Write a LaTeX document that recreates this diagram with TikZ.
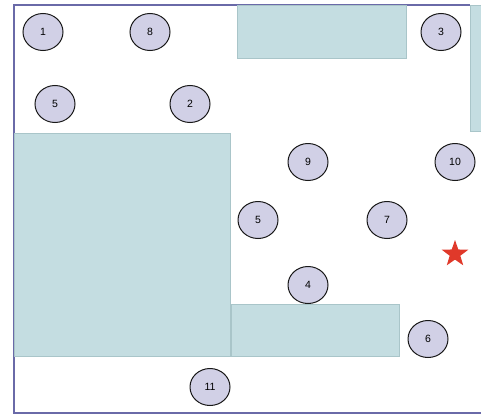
\documentclass[tikz,border=0pt]{standalone}
\usepackage{fontspec}
\setmainfont{Liberation Sans}
\usetikzlibrary{shapes.geometric}
\definecolor{wallblue}{HTML}{6A6AA8}
\definecolor{blockfill}{HTML}{C4DDE1}
\definecolor{blockline}{HTML}{A9C5C9}
\definecolor{spotfill}{HTML}{D1D0E6}
\definecolor{starred}{HTML}{E0392A}
\begin{document}
\begin{tikzpicture}[x=1pt,y=-1pt,font=\fontsize{10.5}{12}\selectfont]
        \tikzset{spot/.style={draw=black!90, fill=spotfill, ellipse, line width=1pt, minimum width=40pt, minimum height=37pt, inner sep=0pt},
                 block/.style={fill=blockfill, draw=blockline, line width=1pt}}
        \useasboundingbox (0,0) rectangle (481,415);
        % outer wall
        \draw[wallblue, line width=1.5pt] (470,5) -- (14,5) -- (14,413) -- (481,413);
        % obstacles
        \draw[block] (237,5) rectangle (406,58);
        \draw[block] (470,5) rectangle (484,131);
        \draw[block] (14,133) rectangle (230,356);
        \draw[block] (231,304) rectangle (399,356);
        % numbered spots
        \node[spot] (s1) at (43,32) {1};
        \node[spot] (s8) at (150,32) {8};
        \node[spot] (s3) at (441,32) {3};
        \node[spot] (s5a) at (55,104) {5};
        \node[spot] (s2) at (190,104) {2};
        \node[spot] (s9) at (308,162) {9};
        \node[spot] (s10) at (455,162) {10};
        \node[spot] (s5b) at (258,220) {5};
        \node[spot] (s7) at (387,220) {7};
        \node[spot] (s4) at (308,285) {4};
        \node[spot] (s6) at (428,339) {6};
        \node[spot] (s11) at (210,387) {11};
        % goal
        \node[star, star points=5, star point ratio=2.5, fill=starred, minimum size=28pt, inner sep=0pt] (goal) at (455,254) {};
    \end{tikzpicture}
\end{document}
